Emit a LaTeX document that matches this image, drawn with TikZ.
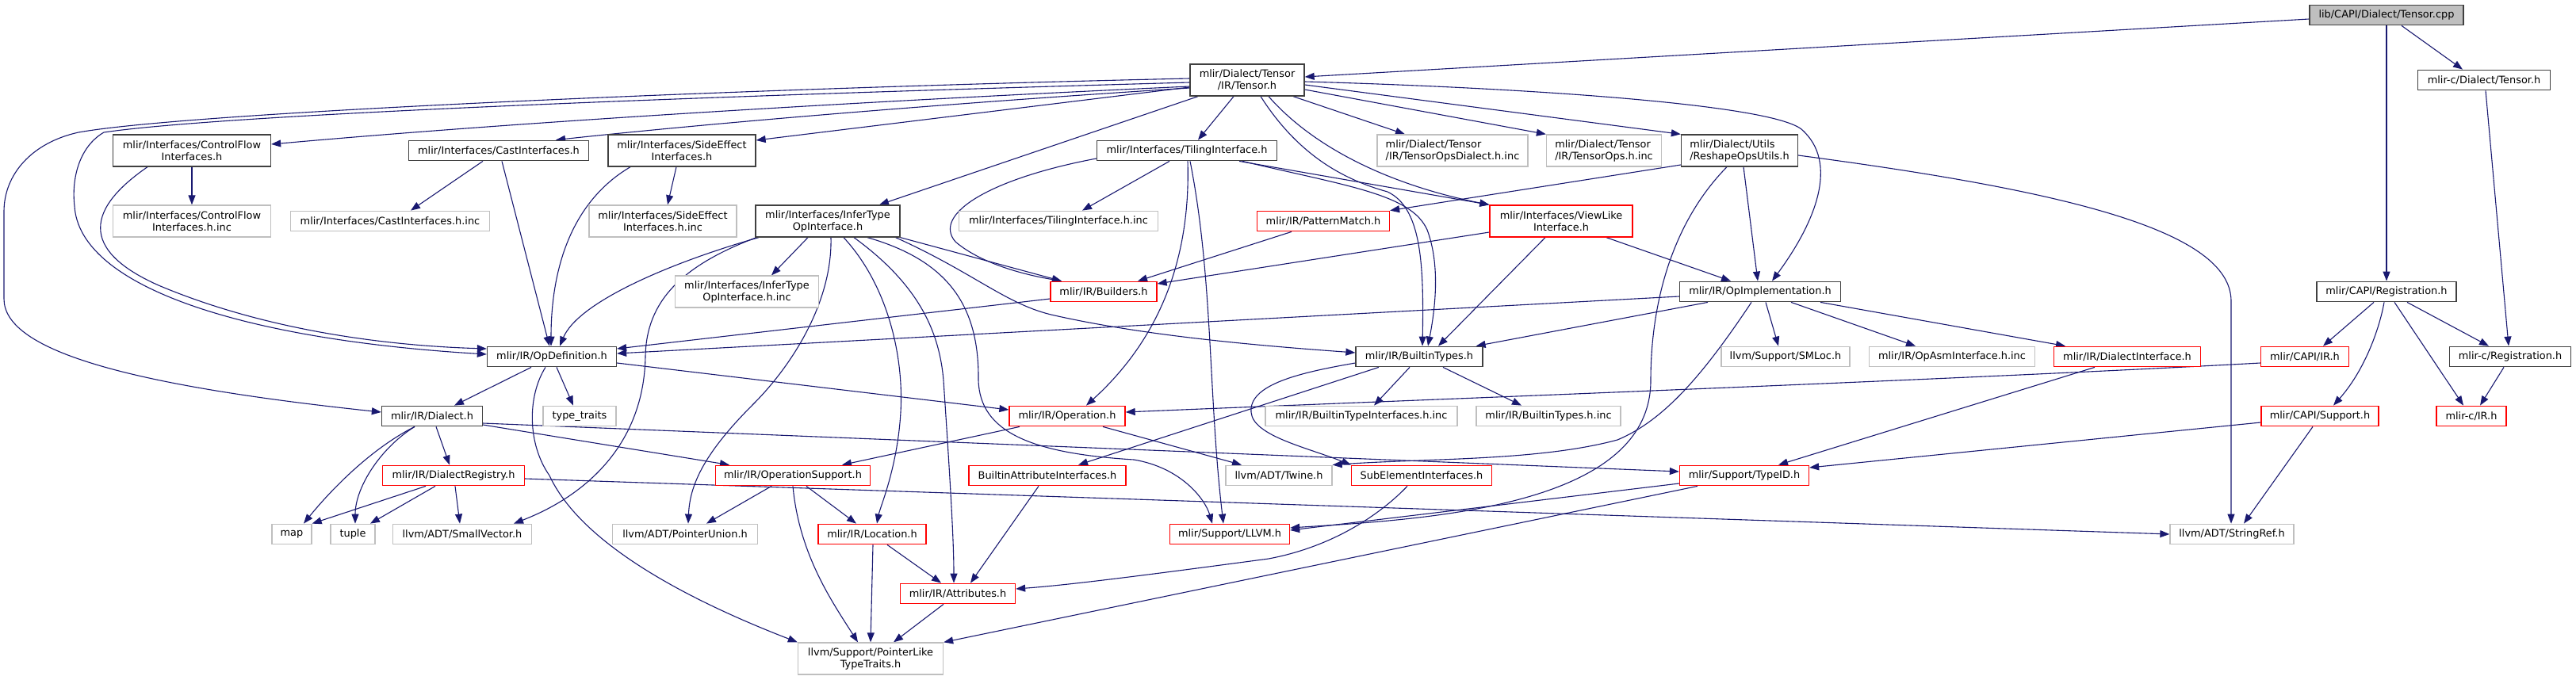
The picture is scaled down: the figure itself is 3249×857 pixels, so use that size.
\documentclass[tikz,border=0pt]{standalone}
\usepackage{fontspec}
\setmainfont{DejaVu Sans}
\usetikzlibrary{arrows.meta,backgrounds}
\definecolor{edgecol}{HTML}{191970}
\definecolor{blkcol}{HTML}{404040}
\definecolor{redcol}{HTML}{FF0000}
\definecolor{grycol}{HTML}{BFBFBF}
\begin{document}
\begin{tikzpicture}[x=1pt,y=-1pt,
  nbase/.style={draw, line width=1.3pt, fill=white, inner xsep=3pt, inner ysep=1pt,
    minimum height=25.5pt, font=\fontsize{12.9}{15}\selectfont, align=center},
  two/.style={minimum height=40pt},
  nblk/.style={nbase, draw=blkcol},
  nred/.style={nbase, draw=redcol},
  ngry/.style={nbase, draw=grycol},
  nroot/.style={nbase, draw=blkcol, fill=grycol},
  lft/.style={align=left},
  conn/.style={draw=edgecol, line width=1.1pt, -{Triangle[length=12pt,width=9pt]}}]
\useasboundingbox (0,0) rectangle (3249,857);
% ---------- nodes ----------
\node[nroot, minimum width=194pt] (cpp) at (3010,19) {lib/CAPI/Dialect/Tensor.cpp};
\node[nblk, two, minimum width=144pt] (tensorh) at (1573,101) {mlir/Dialect/Tensor\\/IR/Tensor.h};
\node[nblk, minimum width=167pt] (ctensor) at (3133,101) {mlir-c/Dialect/Tensor.h};
\node[nblk, two, minimum width=199pt] (cflow) at (242,190) {mlir/Interfaces/ControlFlow\\Interfaces.h};
\node[nblk, minimum width=227pt] (cast) at (629,190) {mlir/Interfaces/CastInterfaces.h};
\node[nblk, two, minimum width=186pt] (side) at (860,190) {mlir/Interfaces/SideEffect\\Interfaces.h};
\node[nblk, minimum width=227pt] (tiling) at (1497,190) {mlir/Interfaces/TilingInterface.h};
\node[ngry, two, lft, minimum width=190pt] (topsd) at (1832,190) {mlir/Dialect/Tensor\\/IR/TensorOpsDialect.h.inc};
\node[ngry, two, lft, minimum width=145pt] (tops) at (2023,190) {mlir/Dialect/Tensor\\/IR/TensorOps.h.inc};
\node[nblk, two, lft, minimum width=147pt] (reshape) at (2194,190) {mlir/Dialect/Utils\\/ReshapeOpsUtils.h};
\node[ngry, two, minimum width=199pt] (cflowinc) at (242,279) {mlir/Interfaces/ControlFlow\\Interfaces.h.inc};
\node[ngry, minimum width=251pt] (castinc) at (492,279) {mlir/Interfaces/CastInterfaces.h.inc};
\node[ngry, two, minimum width=186pt] (sideinc) at (836,279) {mlir/Interfaces/SideEffect\\Interfaces.h.inc};
\node[nblk, two, minimum width=182pt] (infer) at (1044,279) {mlir/Interfaces/InferType\\OpInterface.h};
\node[ngry, minimum width=251pt] (tilinginc) at (1335,279) {mlir/Interfaces/TilingInterface.h.inc};
\node[nred, minimum width=167pt] (pattern) at (1669,279) {mlir/IR/PatternMatch.h};
\node[nred, two, minimum width=180pt] (viewlike) at (1969,279) {mlir/Interfaces/ViewLike\\Interface.h};
\node[ngry, two, minimum width=181pt] (inferinc) at (942,368) {mlir/Interfaces/InferType\\OpInterface.h.inc};
\node[nred, minimum width=134pt] (builders) at (1392,368) {mlir/IR/Builders.h};
\node[nblk, minimum width=203pt] (opimpl) at (2220,368) {mlir/IR/OpImplementation.h};
\node[nblk, minimum width=176pt] (capireg) at (3010,368) {mlir/CAPI/Registration.h};
\node[nblk, minimum width=163pt] (opdef) at (696,450) {mlir/IR/OpDefinition.h};
\node[nblk, minimum width=160pt] (btypes) at (1790,450) {mlir/IR/BuiltinTypes.h};
\node[ngry, minimum width=162pt] (smloc) at (2252,450) {llvm/Support/SMLoc.h};
\node[ngry, minimum width=209pt] (opasm) at (2462,450) {mlir/IR/OpAsmInterface.h.inc};
\node[nred, minimum width=185pt] (dialint) at (2683,450) {mlir/IR/DialectInterface.h};
\node[nred, minimum width=111pt] (capiir) at (2907,450) {mlir/CAPI/IR.h};
\node[nblk, minimum width=153pt] (creg) at (3166,450) {mlir-c/Registration.h};
\node[nblk, minimum width=127pt] (dialect) at (545,525) {mlir/IR/Dialect.h};
\node[ngry, minimum width=92pt] (typetraits) at (731,525) {type\_traits};
\node[nred, minimum width=146pt] (operation) at (1346,525) {mlir/IR/Operation.h};
\node[ngry, minimum width=242pt] (btiinc) at (1717,525) {mlir/IR/BuiltinTypeInterfaces.h.inc};
\node[ngry, minimum width=182pt] (btinc) at (1953,525) {mlir/IR/BuiltinTypes.h.inc};
\node[nred, minimum width=148pt] (capisup) at (2926,525) {mlir/CAPI/Support.h};
\node[nred, minimum width=88pt] (cir) at (3117,525) {mlir-c/IR.h};
\node[nred, minimum width=179pt] (dreg) at (572,600) {mlir/IR/DialectRegistry.h};
\node[nred, minimum width=195pt] (opsup) at (1000,600) {mlir/IR/OperationSupport.h};
\node[nred, minimum width=198pt] (baint) at (1321,600) {BuiltinAttributeInterfaces.h};
\node[ngry, minimum width=134pt] (twine) at (1613,600) {llvm/ADT/Twine.h};
\node[nred, minimum width=177pt] (subel) at (1793,600) {SubElementInterfaces.h};
\node[nred, minimum width=163pt] (typeid) at (2200,600) {mlir/Support/TypeID.h};
\node[ngry, minimum width=50pt] (map) at (368,674) {map};
\node[ngry, minimum width=56pt] (tuple) at (445,674) {tuple};
\node[ngry, minimum width=175pt] (smallvec) at (583,674) {llvm/ADT/SmallVector.h};
\node[ngry, minimum width=183pt] (punion) at (864,674) {llvm/ADT/PointerUnion.h};
\node[nred, minimum width=136pt] (location) at (1100,674) {mlir/IR/Location.h};
\node[nred, minimum width=151pt] (llvmh) at (1551,674) {mlir/Support/LLVM.h};
\node[ngry, minimum width=156pt] (stringref) at (2815,674) {llvm/ADT/StringRef.h};
\node[nred, minimum width=145pt] (attrs) at (1208,749) {mlir/IR/Attributes.h};
\node[ngry, two, minimum width=183pt] (plike) at (1098,831) {llvm/Support/PointerLike\\TypeTraits.h};
% ---------- edges ----------
\begin{pgfonlayer}{background}
% root file
\draw[conn] ([yshift=-5pt]cpp.west) -- ([yshift=4pt]tensorh.east);
\draw[conn] (cpp.south) -- (capireg.north);
\draw[conn] ([xshift=19pt]cpp.south) -- ([xshift=-27pt]ctensor.north);
\draw[conn] ([xshift=2pt]ctensor.south) -- ([xshift=-2pt]creg.north);
% CAPI
\draw[conn] ([xshift=-16pt]capireg.south) -- ([xshift=23pt]capiir.north);
\draw[conn] ([xshift=-3pt]capireg.south) .. controls (3000,420) and (2980,470) .. ([xshift=17pt]capisup.north);
\draw[conn] ([xshift=10pt]capireg.south) -- ([xshift=-10pt]cir.north);
\draw[conn] ([xshift=26pt]capireg.south) -- ([xshift=-27pt]creg.north);
\draw[conn] ([xshift=-8pt]creg.south) -- ([xshift=11pt]cir.north);
\draw[conn] ([yshift=-8pt]capiir.west) .. controls (2450,480) and (1700,508) .. ([yshift=5pt]operation.east);
\draw[conn] ([yshift=-8pt]capisup.west) -- ([yshift=10pt]typeid.east);
\draw[conn] ([xshift=-9pt]capisup.south) -- ([xshift=15pt]stringref.north);
% Tensor.h
\draw[conn] ([yshift=2pt]tensorh.west) .. controls (1000,110) and (250,140) .. (99,167)
  .. controls (40,180) and (5,220) .. (5,267) -- (5,377) .. controls (5,440) and (150,485) .. ([yshift=5pt]dialect.west);
\draw[conn] ([yshift=-3pt]tensorh.west) .. controls (1000,118) and (300,142) .. (131,167)
  .. controls (100,185) and (90,225) .. (94,260) .. controls (100,360) and (300,428) .. ([yshift=3pt]opdef.west);
\draw[conn] ([yshift=-8pt]tensorh.west) .. controls (1150,125) and (700,150) .. ([yshift=8pt]cflow.east);
\draw[conn] ([yshift=-10pt]tensorh.west) .. controls (1200,130) and (900,155) .. ([xshift=72pt]cast.north);
\draw[conn] ([yshift=-9pt]tensorh.west) -- ([yshift=13pt]side.east);
\draw[conn] ([xshift=-62pt]tensorh.south) -- ([xshift=65pt]infer.north);
\draw[conn] ([xshift=-17pt]tensorh.south) -- ([xshift=14pt]tiling.north);
\draw[conn] ([xshift=17pt]tensorh.south) .. controls (1640,200) and (1700,228) .. (1750,242)
  .. controls (1792,262) and (1796,330) .. ([xshift=4pt]btypes.north);
\draw[conn] ([xshift=27pt]tensorh.south) .. controls (1660,190) and (1760,235) .. (viewlike.north west);
\draw[conn] ([xshift=58pt]tensorh.south) -- ([xshift=-60pt]topsd.north);
\draw[conn] ([yshift=-12pt]tensorh.east) -- (tops.north west);
\draw[conn] ([yshift=-6pt]tensorh.east) -- (reshape.north west);
\draw[conn] ([yshift=-2pt]tensorh.east) .. controls (1900,110) and (2230,130) .. (2272,163)
  .. controls (2320,205) and (2290,280) .. ([xshift=15pt]opimpl.north);
% ControlFlow / Cast / SideEffect
\draw[conn] (cflow.south) -- (cflowinc.north);
\draw[conn] ([xshift=-56pt]cflow.south) .. controls (100,270) and (110,320) .. (200,360)
  .. controls (330,415) and (480,436) .. ([yshift=10pt]opdef.west);
\draw[conn] ([xshift=-20pt]cast.south) -- ([xshift=26pt]castinc.north);
\draw[conn] ([xshift=4pt]cast.south) -- ([xshift=-3pt]opdef.north);
\draw[conn] ([xshift=-7pt]side.south) -- ([xshift=6pt]sideinc.north);
\draw[conn] ([xshift=-65pt]side.south) .. controls (720,255) and (695,340) .. ([xshift=-1pt]opdef.north);
% TilingInterface
\draw[conn] ([xshift=-22pt]tiling.south) -- ([xshift=30pt]tilinginc.north);
\draw[conn] ([yshift=-10pt]tiling.west) .. controls (1250,225) and (1175,270) .. (1205,305)
  .. controls (1240,335) and (1300,348) .. ([xshift=-53pt]builders.north);
\draw[conn] ([xshift=1pt]tiling.south) .. controls (1502,330) and (1460,430) .. ([xshift=24pt]operation.north);
\draw[conn] ([xshift=4pt]tiling.south) .. controls (1530,350) and (1524,500) .. ([xshift=-8pt]llvmh.north);
\draw[conn] ([xshift=66pt]tiling.south) -- (viewlike.north west);
\draw[conn] ([xshift=70pt]tiling.south) .. controls (1700,235) and (1780,245) .. (1800,290)
  .. controls (1815,330) and (1812,380) .. ([xshift=11pt]btypes.north);
% InferType
\draw[conn] ([xshift=-25pt]infer.south) -- ([xshift=31pt]inferinc.north);
\draw[conn] ([xshift=-87pt]infer.south) .. controls (850,330) and (730,380) .. ([xshift=10pt]opdef.north);
\draw[conn] ([xshift=-90pt]infer.south) .. controls (860,335) and (815,380) .. (814,450)
  .. controls (812,560) and (740,625) .. ([xshift=65pt]smallvec.north);
\draw[conn] ([xshift=4pt]infer.south) .. controls (1050,380) and (1000,460) .. (950,510)
  .. controls (890,570) and (870,610) .. ([xshift=4pt]punion.north);
\draw[conn] ([xshift=20pt]infer.south) .. controls (1120,360) and (1140,450) .. (1136,520)
  .. controls (1132,590) and (1110,640) .. ([xshift=6pt]location.north);
\draw[conn] ([xshift=33pt]infer.south) .. controls (1160,360) and (1185,420) .. (1190,480)
  .. controls (1198,600) and (1203,680) .. ([xshift=-5pt]attrs.north);
\draw[conn] ([xshift=50pt]infer.south) .. controls (1200,330) and (1235,390) .. (1234,480)
  .. controls (1236,545) and (1300,572) .. (1430,580) .. controls (1490,590) and (1520,630) .. ([xshift=-22pt]llvmh.north);
\draw[conn] (infer.south east) -- ([xshift=-53pt]builders.north);
\draw[conn] ([xshift=-6pt]infer.south east) .. controls (1230,345) and (1270,385) .. (1330,398)
  .. controls (1450,425) and (1600,437) .. ([yshift=5pt]btypes.west);
% Builders, PatternMatch, ViewLike, ReshapeOpsUtils
\draw[conn] ([yshift=-9pt]builders.west) -- ([yshift=10pt]opdef.east);
\draw[conn] ([xshift=-40pt]pattern.south) -- ([xshift=43pt]builders.north);
\draw[conn] ([yshift=-14pt]viewlike.west) -- ([yshift=10pt]builders.east);
\draw[conn] ([xshift=-20pt]viewlike.south) -- ([xshift=24pt]btypes.north);
\draw[conn] ([xshift=57pt]viewlike.south) -- ([xshift=-37pt]opimpl.north);
\draw[conn] ([yshift=-18pt]reshape.west) -- (pattern.north east);
\draw[conn] ([xshift=5pt]reshape.south) -- ([xshift=-3pt]opimpl.north);
\draw[conn] ([xshift=-16pt]reshape.south) .. controls (2110,280) and (2082,380) .. (2082,480)
  .. controls (2082,640) and (1800,655) .. ([yshift=8pt]llvmh.east);
\draw[conn] ([yshift=-6pt]reshape.east) .. controls (2600,240) and (2814,290) .. (2814,380) -- ([xshift=-1pt]stringref.north);
% OpImplementation
\draw[conn] ([yshift=-6pt]opimpl.west) -- ([yshift=4pt]opdef.east);
\draw[conn] ([xshift=-66pt]opimpl.south) -- ([xshift=-9pt]btypes.north east);
\draw[conn] ([xshift=-11pt]opimpl.south) .. controls (2150,470) and (2100,530) .. (2040,555)
  .. controls (1940,582) and (1800,578) .. (twine.north east);
\draw[conn] ([xshift=7pt]opimpl.south) -- ([xshift=-9pt]smloc.north);
\draw[conn] ([xshift=39pt]opimpl.south) -- ([xshift=-46pt]opasm.north);
\draw[conn] ([xshift=76pt]opimpl.south) -- ([xshift=-78pt]dialint.north);
% BuiltinTypes
\draw[conn] ([xshift=-12pt]btypes.south) -- ([xshift=16pt]btiinc.north);
\draw[conn] ([xshift=30pt]btypes.south) -- ([xshift=-34pt]btinc.north);
\draw[conn] ([xshift=-51pt]btypes.south) -- ([xshift=39pt]baint.north);
\draw[conn] ([yshift=-8pt]btypes.west) .. controls (1640,470) and (1575,485) .. (1578,520)
  .. controls (1580,550) and (1650,565) .. (subel.north west);
% Operation, OpDefinition
\draw[conn] ([xshift=-60pt]operation.south) -- ([xshift=62pt]opsup.north);
\draw[conn] ([xshift=45pt]operation.south) -- ([xshift=-47pt]twine.north);
\draw[conn] ([xshift=-26pt]opdef.south) -- ([xshift=28pt]dialect.north);
\draw[conn] ([xshift=6pt]opdef.south) -- ([xshift=-8pt]typetraits.north);
\draw[conn] ([xshift=-8pt]opdef.south) .. controls (665,500) and (665,560) .. (693,600)
  .. controls (730,680) and (850,750) .. (plike.north west);
\draw[conn] ([yshift=-8pt]opdef.east) -- ([yshift=8pt]operation.west);
% Dialect, DialectRegistry
\draw[conn] ([xshift=-22pt]dialect.south) .. controls (470,565) and (420,615) .. ([xshift=15pt]map.north);
\draw[conn] ([xshift=-22pt]dialect.south) .. controls (480,565) and (448,615) .. ([xshift=3pt]tuple.north);
\draw[conn] ([xshift=5pt]dialect.south) -- ([xshift=-5pt]dreg.north);
\draw[conn] ([yshift=-11pt]dialect.east) -- ([xshift=-80pt]opsup.north);
\draw[conn] ([yshift=-9pt]dialect.east) -- ([yshift=5pt]typeid.west);
\draw[conn] ([xshift=-35pt]dreg.south) -- (map.north east);
\draw[conn] ([xshift=-23pt]dreg.south) -- ([xshift=22pt]tuple.north);
\draw[conn] ([xshift=2pt]dreg.south) -- ([xshift=-3pt]smallvec.north);
\draw[conn] ([yshift=-4pt]dreg.east) -- (stringref.west);
% OperationSupport, Location, Attributes, ...
\draw[conn] ([xshift=-27pt]opsup.south) -- ([xshift=27pt]punion.north);
\draw[conn] ([xshift=17pt]opsup.south) -- ([xshift=-20pt]location.north);
\draw[conn] (opsup.south) .. controls (1008,700) and (1050,760) .. ([xshift=-16pt]plike.north);
\draw[conn] ([xshift=19pt]location.south) -- ([xshift=-21pt]attrs.north);
\draw[conn] ([xshift=1pt]location.south) -- (plike.north);
\draw[conn] ([xshift=-18pt]attrs.south) -- ([xshift=29pt]plike.north);
\draw[conn] ([xshift=-11pt]baint.south) -- ([xshift=16pt]attrs.north);
\draw[conn] ([xshift=-18pt]subel.south) .. controls (1740,650) and (1680,690) .. (1600,705)
  .. controls (1450,725) and (1350,738) .. ([yshift=6pt]attrs.east);
\draw[conn] ([yshift=-10pt]typeid.west) -- ([yshift=5pt]llvmh.east);
\draw[conn] ([xshift=-59pt]typeid.south) -- (plike.north east);
\draw[conn] ([xshift=-41pt]dialint.south) -- ([xshift=43pt]typeid.north);
\end{pgfonlayer}
\end{tikzpicture}
\end{document}
